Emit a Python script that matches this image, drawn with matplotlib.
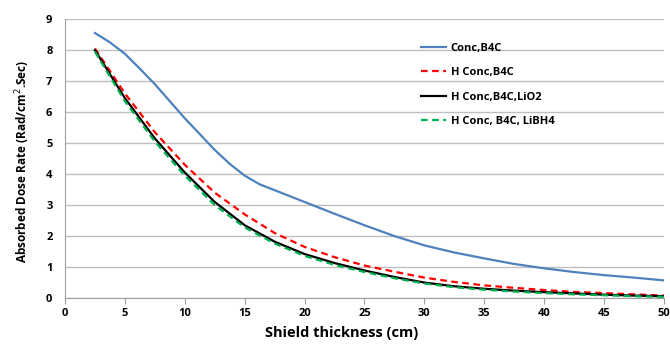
import matplotlib
matplotlib.use('Agg')
import matplotlib.pyplot as plt

thickness = [2.5, 5, 7.5, 10, 12.5, 15, 17.5, 20, 22.5, 25, 27.5, 30,
             32.5, 35, 37.5, 40, 42.5, 45, 47.5, 50]
blue_thickness = [2.5, 3.75, 5, 6.25, 7.5, 10, 12.5, 13.75, 15, 16.25, 17.5, 20,
                  22.5, 25, 27.5, 30, 32.5, 35, 37.5, 40, 42.5, 45, 47.5, 50]
conc_b4c = [8.55, 8.25, 7.88, 7.4, 6.9, 5.8, 4.78, 4.33, 3.95, 3.67, 3.48, 3.1,
            2.72, 2.35, 2.0, 1.7, 1.47, 1.28, 1.1, 0.96, 0.84, 0.74, 0.66, 0.57]
h_conc_b4c = [8.05, 6.6, 5.35, 4.3, 3.4, 2.7, 2.1, 1.65, 1.32, 1.05, 0.85, 0.66,
              0.52, 0.41, 0.33, 0.26, 0.2, 0.16, 0.12, 0.08]
h_conc_lio2 = [8.0, 6.45, 5.15, 4.05, 3.1, 2.35, 1.82, 1.42, 1.13, 0.89, 0.68, 0.5,
               0.38, 0.3, 0.24, 0.19, 0.15, 0.11, 0.08, 0.06]
h_conc_libh4 = [7.95, 6.35, 5.05, 3.95, 3.0, 2.28, 1.76, 1.36, 1.07, 0.84, 0.64, 0.47,
                0.35, 0.27, 0.21, 0.16, 0.12, 0.09, 0.06, 0.04]

plt.rcParams['font.family'] = ['Open Sans', 'DejaVu Sans']

fig = plt.figure(figsize=(6.7, 3.47), dpi=100)
ax = fig.add_axes([0.097, 0.141, 0.894, 0.804])

ax.plot(blue_thickness, conc_b4c, color='#4f81bd', lw=1.6, label='Conc,B4C')
ax.plot(thickness, h_conc_b4c, color='#ff0000', lw=1.6, ls=(0, (3, 2)), label='H Conc,B4C')
ax.plot(thickness, h_conc_lio2, color='black', lw=1.6, label='H Conc,B4C,LiO2')
ax.plot(thickness, h_conc_libh4, color='#00b050', lw=1.6, ls=(0, (3, 2)), label='H Conc, B4C, LiBH4')

ax.set_xlim(0, 50)
ax.set_ylim(0, 9)
ax.set_xticks(range(0, 51, 5))
ax.set_yticks(range(0, 10))
ax.yaxis.grid(True, color='#bfbfbf', lw=1)
ax.set_axisbelow(True)
for s in ['top', 'right']:
    ax.spines[s].set_visible(False)
for s in ['left', 'bottom']:
    ax.spines[s].set_color('#a0a0a0')
ax.tick_params(axis='y', length=0, labelsize=8, pad=9)
ax.tick_params(axis='x', length=4, color='#a0a0a0', labelsize=8, direction='out')
for lab in ax.get_xticklabels() + ax.get_yticklabels():
    lab.set_fontweight('bold')

ax.set_xlabel('Shield thickness (cm)', fontsize=10.5, fontweight='bold')
ax.xaxis.set_label_coords(0.462, -0.1)
ax.set_ylabel('Absorbed Dose Rate (Rad/cm$^2$.Sec)', fontsize=8.5, fontweight='bold')
ax.yaxis.set_label_coords(-0.055, 0.49)

leg = ax.legend(loc='upper left', bbox_to_anchor=(0.577, 0.95), frameon=False,
                prop={'size': 8, 'weight': 'bold'}, handlelength=2.3,
                labelspacing=1.2, handletextpad=0.4)

fig.savefig('out.png', dpi=100)
